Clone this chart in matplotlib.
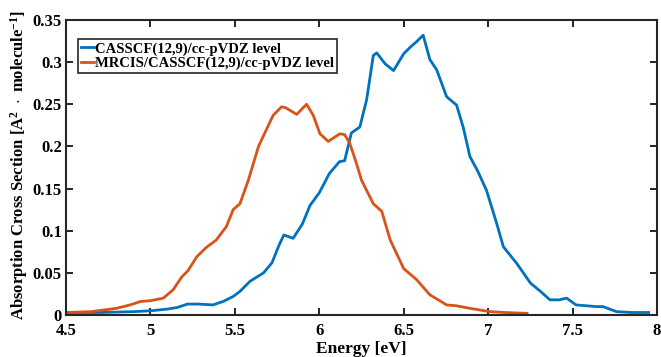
import matplotlib.pyplot as plt

plt.rcParams['font.family'] = ['Liberation Serif', 'DejaVu Serif']
plt.rcParams['font.weight'] = 'bold'
plt.rcParams['mathtext.fontset'] = 'custom'
plt.rcParams['mathtext.rm'] = 'Liberation Serif:bold'
plt.rcParams['mathtext.it'] = 'Liberation Serif:bold'

# CASSCF(12,9)/cc-pVDZ
casscf_e = [4.5, 4.7, 4.9, 5.0, 5.1, 5.16, 5.22, 5.28, 5.37, 5.43, 5.49, 5.53,
            5.59, 5.67, 5.72, 5.76, 5.79, 5.845, 5.9, 5.945, 6.0, 6.06, 6.12,
            6.15, 6.19, 6.24, 6.28, 6.32, 6.34, 6.39, 6.44, 6.5, 6.54, 6.58,
            6.615, 6.655, 6.695, 6.754, 6.813, 6.852, 6.892, 6.94, 6.99, 7.05,
            7.09, 7.17, 7.25, 7.31, 7.366, 7.42, 7.465, 7.52, 7.58, 7.64, 7.68,
            7.76, 7.85, 7.95]
casscf_y = [0.003, 0.003, 0.004, 0.005, 0.007, 0.009, 0.013, 0.013, 0.012, 0.016,
            0.022, 0.028, 0.040, 0.050, 0.062, 0.082, 0.095, 0.091, 0.108, 0.130,
            0.145, 0.168, 0.182, 0.183, 0.216, 0.223, 0.255, 0.308, 0.311, 0.298,
            0.290, 0.310, 0.318, 0.325, 0.332, 0.303, 0.291, 0.259, 0.249, 0.223,
            0.188, 0.170, 0.148, 0.109, 0.081, 0.061, 0.038, 0.028, 0.018, 0.018,
            0.020, 0.012, 0.011, 0.010, 0.010, 0.004, 0.003, 0.003]

# MRCIS/CASSCF(12,9)/cc-pVDZ
mrcis_e = [4.5, 4.65, 4.8, 4.88, 4.94, 5.0, 5.076, 5.135, 5.185, 5.224, 5.274,
           5.33, 5.39, 5.45, 5.49, 5.53, 5.58, 5.64, 5.668, 5.727, 5.777, 5.80,
           5.866, 5.925, 5.964, 6.004, 6.053, 6.122, 6.15, 6.18, 6.22, 6.25,
           6.32, 6.37, 6.42, 6.5, 6.576, 6.655, 6.754, 6.81, 6.89, 7.01, 7.1,
           7.23]
mrcis_y = [0.003, 0.004, 0.008, 0.012, 0.016, 0.017, 0.020, 0.030, 0.045, 0.053,
           0.069, 0.080, 0.089, 0.105, 0.125, 0.132, 0.160, 0.200, 0.212, 0.237,
           0.247, 0.246, 0.238, 0.250, 0.237, 0.215, 0.206, 0.215, 0.214, 0.204,
           0.180, 0.160, 0.132, 0.123, 0.089, 0.055, 0.042, 0.024, 0.012, 0.011,
           0.008, 0.004, 0.003, 0.002]

fig = plt.figure(figsize=(6.61, 3.57), dpi=100)
ax = fig.add_axes([0.0998, 0.1176, 0.8942, 0.8264])

ax.plot(casscf_e, casscf_y, color='#0072BD', lw=2.0, solid_joinstyle='round',
        label='CASSCF(12,9)/cc-pVDZ level')
ax.plot(mrcis_e, mrcis_y, color='#D95319', lw=2.0, solid_joinstyle='round',
        label='MRCIS/CASSCF(12,9)/cc-pVDZ level')

ax.set_xlim(4.5, 8)
ax.set_ylim(0, 0.35)
ax.set_xticks([4.5, 5, 5.5, 6, 6.5, 7, 7.5, 8])
ax.set_xticklabels(['4.5', '5', '5.5', '6', '6.5', '7', '7.5', '8'])
ax.set_yticks([0, 0.05, 0.1, 0.15, 0.2, 0.25, 0.3, 0.35])
ax.set_yticklabels(['0', '0.05', '0.1', '0.15', '0.2', '0.25', '0.3', '0.35'])
ax.tick_params(direction='in', top=True, right=True, labelsize=12, length=5, width=1.2)
ax.tick_params(axis='x', pad=6)
ax.tick_params(axis='y', pad=3)
for s in ax.spines.values():
    s.set_linewidth(1.5)
    s.set_color('#262626')

ax.set_xlabel('Energy [eV]', fontsize=12.5, fontweight='bold', labelpad=1)
ax.set_ylabel(r'Absorption Cross Section [A$^{2}\ \cdot$ molecule$^{-1}$]', fontsize=12,
              fontweight='bold')
ax.yaxis.set_label_coords(-0.061, 0.508)

leg = ax.legend(loc='upper left', bbox_to_anchor=(0.02, 0.935), fontsize=10.5,
                handlelength=0.9, handletextpad=0.1, borderpad=0.2, labelspacing=0.05,
                borderaxespad=0, fancybox=False, framealpha=1)
leg.get_frame().set_edgecolor('#262626')
leg.get_frame().set_linewidth(1.2)

fig.savefig('out.png', dpi=100)
